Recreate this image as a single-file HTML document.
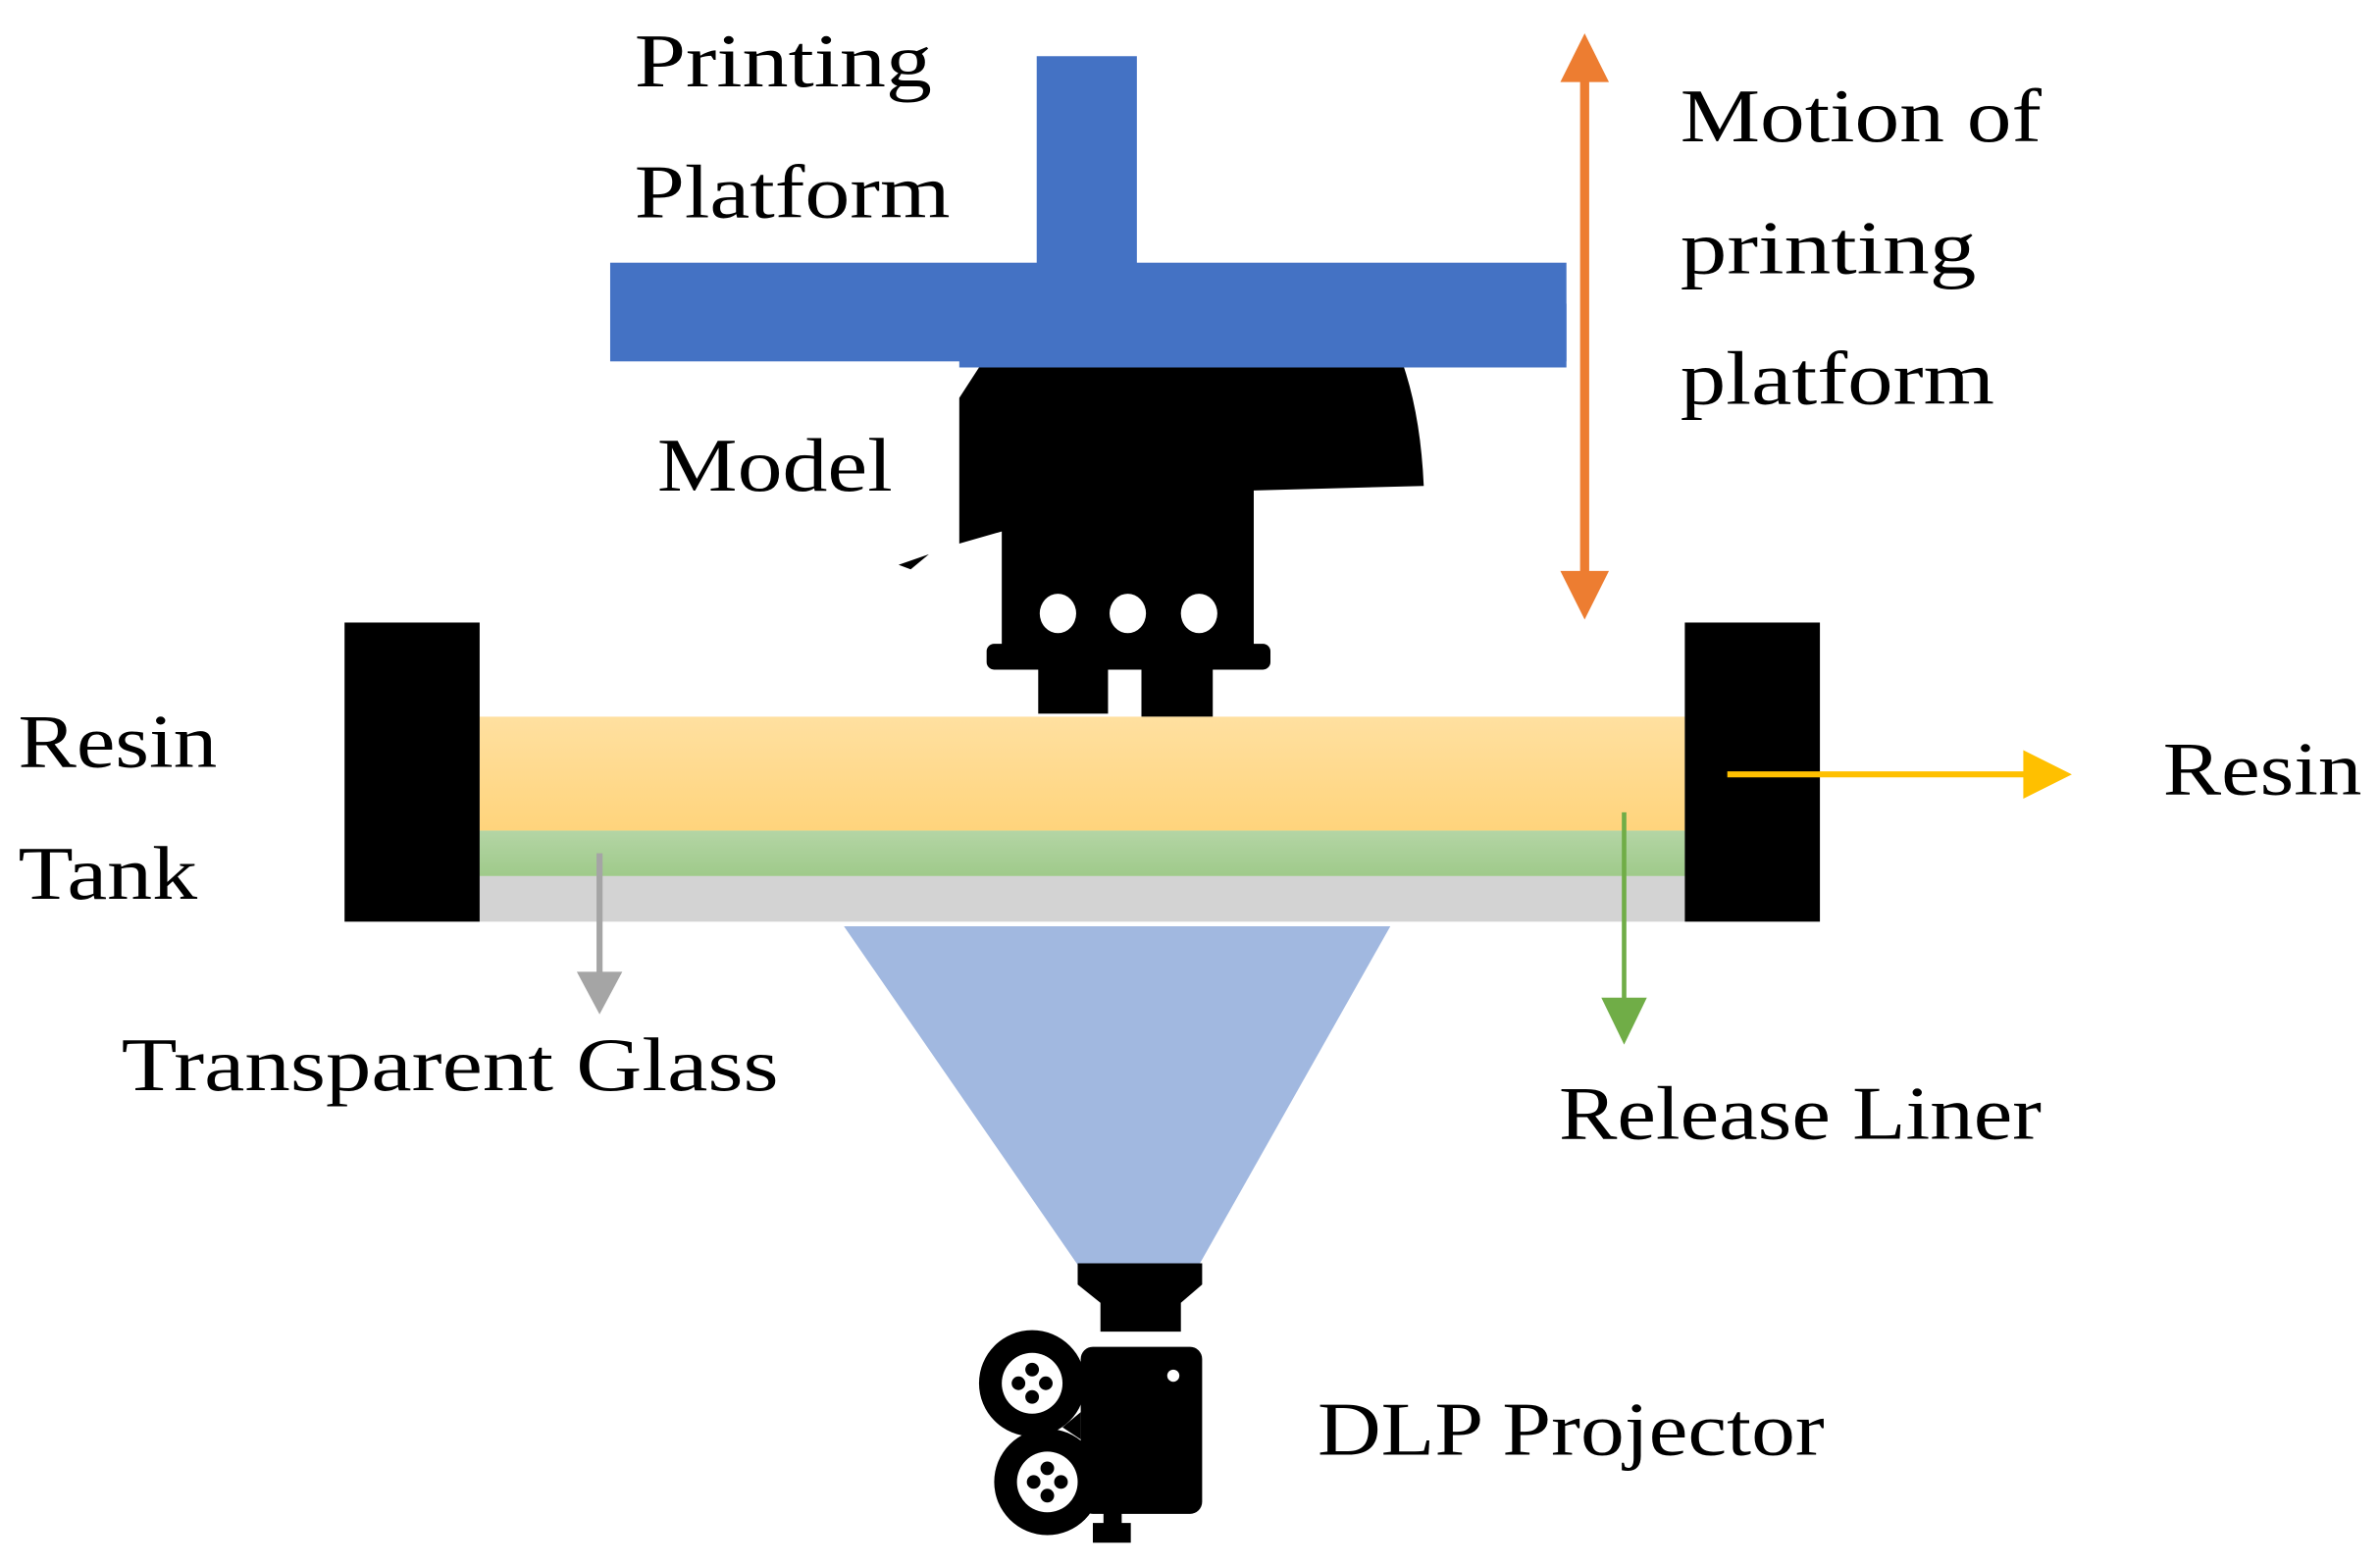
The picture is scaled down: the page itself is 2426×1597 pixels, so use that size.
<!DOCTYPE html>
<html><head><meta charset="utf-8"><style>
html,body{margin:0;padding:0;background:#fff;width:2426px;height:1597px;overflow:hidden}
svg{display:block}
text{font-family:"Liberation Serif",serif;font-size:50px;fill:#000}
</style></head><body>
<svg width="2426" height="1597" viewBox="0 0 1568 1032" preserveAspectRatio="none" xmlns="http://www.w3.org/2000/svg">
<defs>
<linearGradient id="rs" x1="0" y1="0" x2="0" y2="1"><stop offset="0" stop-color="#ffe0a0"/><stop offset="1" stop-color="#ffd47c"/></linearGradient>
<linearGradient id="gr" x1="0" y1="0" x2="0" y2="1"><stop offset="0" stop-color="#b4d5a5"/><stop offset="1" stop-color="#9fca8a"/></linearGradient>
</defs>
<rect x="683" y="37" width="66" height="140" fill="#4472c4"/>
<rect x="402" y="173" width="630" height="65" fill="#4472c4"/>
<rect x="632" y="200" width="400" height="42" fill="#4472c4"/>
<path d="M645,242 L925,242 Q936,275 938,320 L826,323 L826,425 L660,425 L660,350 L632,358 L632,262 Z" fill="#000"/>
<path d="M592,372 L612,365 L600,375 Z" fill="#000"/>
<rect x="650" y="424" width="187" height="17" rx="5" fill="#000"/>
<rect x="684" y="438" width="46" height="32" fill="#000"/>
<rect x="752" y="438" width="47" height="34" fill="#000"/>
<ellipse cx="697" cy="404" rx="12" ry="13" fill="#fff"/>
<ellipse cx="743" cy="404" rx="12" ry="13" fill="#fff"/>
<ellipse cx="790" cy="404" rx="12" ry="13" fill="#fff"/>
<rect x="316" y="472" width="794" height="75" fill="url(#rs)"/>
<rect x="316" y="547" width="794" height="30" fill="url(#gr)"/>
<rect x="316" y="577" width="794" height="30" fill="#d3d3d3"/>
<rect x="227" y="410" width="89" height="197" fill="#000"/>
<rect x="1110" y="410" width="89" height="197" fill="#000"/>
<path d="M556,610 L916,610 L790,833 L710,833 Z" fill="#a1b8e0"/>
<path d="M710,832 L792,832 L792,846 L778,858 L778,877 L725,877 L725,858 L710,846 Z" fill="#000"/>
<rect x="712" y="887" width="80" height="110" rx="8" fill="#000"/>
<path d="M700,940 L712,930 L712,948 Z" fill="#000"/>
<circle cx="680" cy="911" r="35" fill="#000"/><circle cx="680" cy="911" r="20" fill="#fff"/>
<circle cx="680" cy="902" r="4.5"/><circle cx="680" cy="920" r="4.5"/><circle cx="671" cy="911" r="4.5"/><circle cx="689" cy="911" r="4.5"/>
<circle cx="690" cy="976" r="35" fill="#000"/><circle cx="690" cy="976" r="20" fill="#fff"/>
<circle cx="690" cy="967" r="4.5"/><circle cx="690" cy="985" r="4.5"/><circle cx="681" cy="976" r="4.5"/><circle cx="699" cy="976" r="4.5"/>
<circle cx="773" cy="906" r="4" fill="#fff"/>
<rect x="727" y="995" width="12" height="10" fill="#000"/>
<rect x="720" y="1003" width="25" height="13" fill="#000"/>
<line x1="1044" y1="50" x2="1044" y2="380" stroke="#ed7d31" stroke-width="6"/>
<path d="M1044,22 L1060,54 L1028,54 Z" fill="#ed7d31"/>
<path d="M1044,408 L1060,376 L1028,376 Z" fill="#ed7d31"/>
<line x1="1138" y1="510" x2="1336" y2="510" stroke="#ffc000" stroke-width="4"/>
<path d="M1365,510 L1333,494 L1333,526 Z" fill="#ffc000"/>
<line x1="395" y1="562" x2="395" y2="642" stroke="#a5a5a5" stroke-width="4"/>
<path d="M395,668 L380,640 L410,640 Z" fill="#a5a5a5"/>
<line x1="1070" y1="535" x2="1070" y2="660" stroke="#70ad47" stroke-width="3"/>
<path d="M1070,688 L1055,657 L1085,657 Z" fill="#70ad47"/>
<text x="418" y="57" textLength="196" lengthAdjust="spacingAndGlyphs">Printing</text>
<text x="418" y="143" textLength="208" lengthAdjust="spacingAndGlyphs">Platform</text>
<text x="433" y="323" textLength="155" lengthAdjust="spacingAndGlyphs">Model</text>
<text x="1107" y="93" textLength="238" lengthAdjust="spacingAndGlyphs">Motion of</text>
<text x="1107" y="180" textLength="195" lengthAdjust="spacingAndGlyphs">printing</text>
<text x="1107" y="266" textLength="207" lengthAdjust="spacingAndGlyphs">platform</text>
<text x="12" y="505" textLength="131" lengthAdjust="spacingAndGlyphs">Resin</text>
<text x="12" y="592" textLength="118" lengthAdjust="spacingAndGlyphs">Tank</text>
<text x="1425" y="523" textLength="131" lengthAdjust="spacingAndGlyphs">Resin</text>
<text x="80" y="718" textLength="433" lengthAdjust="spacingAndGlyphs">Transparent Glass</text>
<text x="1027" y="750" textLength="318" lengthAdjust="spacingAndGlyphs">Release Liner</text>
<text x="868" y="958" textLength="334" lengthAdjust="spacingAndGlyphs">DLP Projector</text>
</svg>
</body></html>
